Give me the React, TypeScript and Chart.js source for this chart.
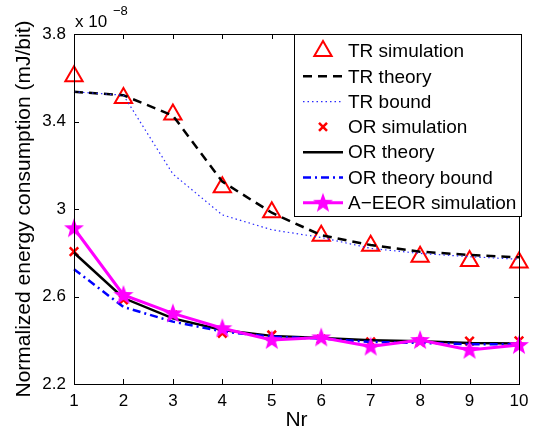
import React, { useEffect, useRef } from "react";
import { Chart, registerables } from "chart.js";
Chart.register(...registerables);

const nr = [1, 2, 3, 4, 5, 6, 7, 8, 9, 10];
const trSim = [3.607, 3.508, 3.432, 3.1, 2.985, 2.878, 2.832, 2.782, 2.762, 2.755];
const trTheory = [3.536, 3.52, 3.427, 3.125, 2.983, 2.88, 2.835, 2.805, 2.79, 2.779];
const trBound = [3.536, 3.52, 3.16, 2.973, 2.905, 2.87, 2.82, 2.797, 2.782, 2.77];
const orSim = [2.805, 2.585, 2.515, 2.432, 2.424, 2.405, 2.393, 2.392, 2.396, 2.397];
const orTheory = [2.8, 2.593, 2.5, 2.447, 2.42, 2.41, 2.4, 2.395, 2.387, 2.385];
const orBound = [2.725, 2.552, 2.485, 2.44, 2.416, 2.408, 2.392, 2.388, 2.382, 2.382];
const aeeor = [2.912, 2.607, 2.523, 2.455, 2.401, 2.413, 2.371, 2.401, 2.356, 2.378];

const xTicks = [1, 2, 3, 4, 5, 6, 7, 8, 9, 10];
const yTicks = [2.2, 2.6, 3, 3.4, 3.8];
const legendLabels = [
  "TR simulation",
  "TR theory",
  "TR bound",
  "OR simulation",
  "OR theory",
  "OR theory bound",
  "A\u2212EEOR simulation",
];
const xTitle = "Nr";
const yTitle = "Normalized energy consumption (mJ/bit)";

const FONT = "'Liberation Sans', Arial, Helvetica, sans-serif";

function makeStar(color: string): HTMLCanvasElement {
  const c = document.createElement("canvas");
  c.width = 24;
  c.height = 24;
  const ctx = c.getContext("2d")!;
  const cx = 12, cy = 12.5, R = 10.5, r = 4.3;
  ctx.beginPath();
  for (let i = 0; i < 10; i++) {
    const rad = (i % 2 === 0 ? R : r);
    const a = -Math.PI / 2 + (i * Math.PI) / 5;
    const px = cx + rad * Math.cos(a);
    const py = cy + rad * Math.sin(a);
    if (i === 0) ctx.moveTo(px, py);
    else ctx.lineTo(px, py);
  }
  ctx.closePath();
  ctx.fillStyle = color;
  ctx.fill();
  return c;
}

export default function App() {
  const ref = useRef<HTMLCanvasElement>(null);
  useEffect(() => {
    const star = makeStar("#ff00ff");
    const styles = [
      { type: "tri" },
      { color: "#000000", width: 2.5, dash: [9, 6] },
      { color: "#2a2aff", width: 1.2, dash: [1.5, 3] },
      { type: "x" },
      { color: "#000000", width: 2.5, dash: [] },
      { color: "#0000ff", width: 2.5, dash: [8, 4, 2, 4] },
      { color: "#ff00ff", width: 3, dash: [], star: true },
    ];

    const framePlugin = {
      id: "frame",
      afterDatasetsDraw(chart: any) {
        const { ctx, chartArea } = chart;
        const { left, right, top, bottom } = chartArea;
        const xs = chart.scales.x;
        const ys = chart.scales.y;
        ctx.save();
        ctx.strokeStyle = "#000";
        ctx.lineWidth = 1;
        ctx.strokeRect(Math.round(left) + 0.5, Math.round(top) + 0.5, Math.round(right - left), Math.round(bottom - top));
        const tl = 5;
        ctx.beginPath();
        xTicks.forEach((v) => {
          const px = Math.round(xs.getPixelForValue(v)) + 0.5;
          ctx.moveTo(px, bottom);
          ctx.lineTo(px, bottom - tl);
          ctx.moveTo(px, top);
          ctx.lineTo(px, top + tl);
        });
        yTicks.forEach((v) => {
          const py = Math.round(ys.getPixelForValue(v)) + 0.5;
          ctx.moveTo(left, py);
          ctx.lineTo(left + tl, py);
          ctx.moveTo(right, py);
          ctx.lineTo(right - tl, py);
        });
        ctx.stroke();
        // exponent label
        ctx.fillStyle = "#000";
        ctx.textBaseline = "alphabetic";
        ctx.textAlign = "left";
        ctx.font = `17px ${FONT}`;
        ctx.fillText("x 10", left + 1, top - 7);
        ctx.font = `13px ${FONT}`;
        ctx.fillText("\u22128", left + 39, top - 19);
        ctx.restore();
      },
      afterDraw(chart: any) {
        const { ctx } = chart;
        ctx.save();
        const bx = 294, by = 34, bw = 227, bh = 182;
        ctx.fillStyle = "#fff";
        ctx.fillRect(bx, by, bw, bh);
        ctx.strokeStyle = "#000";
        ctx.lineWidth = 1;
        ctx.strokeRect(bx + 0.5, by + 0.5, bw, bh);
        const x0 = 303, x1 = 343, mx = 323;
        legendLabels.forEach((label, i) => {
          const y = 51 + i * 25.3;
          const s: any = styles[i];
          if (s.color) {
            ctx.beginPath();
            ctx.strokeStyle = s.color;
            ctx.lineWidth = s.width;
            ctx.setLineDash(s.dash);
            ctx.moveTo(x0, y);
            ctx.lineTo(x1, y);
            ctx.stroke();
            ctx.setLineDash([]);
          }
          if (s.type === "tri") {
            const r = 10;
            ctx.beginPath();
            ctx.strokeStyle = "#ff0000";
            ctx.lineWidth = 2;
            ctx.moveTo(mx, y - r);
            ctx.lineTo(mx + r * Math.sin((2 * Math.PI) / 3), y + r / 2);
            ctx.lineTo(mx - r * Math.sin((2 * Math.PI) / 3), y + r / 2);
            ctx.closePath();
            ctx.stroke();
          }
          if (s.type === "x") {
            const r = 4;
            ctx.beginPath();
            ctx.strokeStyle = "#ff0000";
            ctx.lineWidth = 2.5;
            ctx.moveTo(mx - r, y - r);
            ctx.lineTo(mx + r, y + r);
            ctx.moveTo(mx + r, y - r);
            ctx.lineTo(mx - r, y + r);
            ctx.stroke();
          }
          if (s.star) {
            ctx.drawImage(star, mx - star.width / 2, y - star.height / 2);
          }
          ctx.fillStyle = "#000";
          ctx.font = `19px ${FONT}`;
          ctx.textAlign = "left";
          ctx.textBaseline = "middle";
          ctx.fillText(label, 348, y + 1);
        });
        ctx.restore();
      },
    };

    const pts = (arr: number[]) => nr.map((x, i) => ({ x, y: arr[i] }));

    const chart = new Chart(ref.current!, {
      type: "line",
      data: {
        datasets: [
          {
            label: legendLabels[0],
            data: pts(trSim),
            showLine: false,
            pointStyle: "triangle",
            pointRadius: 10,
            pointBorderWidth: 2,
            pointBorderColor: "#ff0000",
            pointBackgroundColor: "rgba(0,0,0,0)",
            borderColor: "#ff0000",
            order: 6,
            clip: false,
          },
          {
            label: legendLabels[1],
            data: pts(trTheory),
            borderColor: "#000000",
            borderWidth: 2.5,
            borderDash: [9, 6],
            pointRadius: 0,
            order: 5,
            clip: false,
          },
          {
            label: legendLabels[2],
            data: pts(trBound),
            borderColor: "#2a2aff",
            borderWidth: 1.2,
            borderDash: [1.5, 3],
            pointRadius: 0,
            order: 4,
            clip: false,
          },
          {
            label: legendLabels[3],
            data: pts(orSim),
            showLine: false,
            pointStyle: "crossRot",
            pointRadius: 6,
            pointBorderWidth: 2.5,
            pointBorderColor: "#ff0000",
            borderColor: "#ff0000",
            order: 3,
            clip: false,
          },
          {
            label: legendLabels[4],
            data: pts(orTheory),
            borderColor: "#000000",
            borderWidth: 2.5,
            pointRadius: 0,
            order: 2,
            clip: false,
          },
          {
            label: legendLabels[5],
            data: pts(orBound),
            borderColor: "#0000ff",
            borderWidth: 2.5,
            borderDash: [8, 4, 2, 4],
            pointRadius: 0,
            order: 1,
            clip: false,
          },
          {
            label: legendLabels[6],
            data: pts(aeeor),
            borderColor: "#ff00ff",
            borderWidth: 3,
            pointStyle: star as any,
            pointRadius: 10,
            order: 0,
            clip: false,
          },
        ] as any,
      },
      options: {
        responsive: false,
        animation: false,
        devicePixelRatio: 1,
        layout: { padding: { left: 0, right: 17, top: 34, bottom: 0 } },
        plugins: { legend: { display: false }, tooltip: { enabled: false } },
        elements: { line: { tension: 0 } },
        scales: {
          x: {
            type: "linear",
            min: 1,
            max: 10,
            grid: { display: false, drawTicks: false },
            border: { display: false },
            afterFit: (s: any) => { s.height = 49; },
            afterBuildTicks: (s: any) => { s.ticks = xTicks.map((v) => ({ value: v })); },
            ticks: {
              color: "#000",
              padding: 7,
              maxRotation: 0,
              autoSkip: false,
              font: { family: FONT, size: 17 },
              callback: (v: any) => String(v),
            },
            title: {
              display: true,
              text: xTitle,
              color: "#000",
              font: { family: FONT, size: 21 },
              padding: { top: 0, bottom: 0 },
            },
          },
          y: {
            type: "linear",
            min: 2.2,
            max: 3.8,
            grid: { display: false, drawTicks: false },
            border: { display: false },
            afterFit: (s: any) => { s.width = 74; },
            afterBuildTicks: (s: any) => { s.ticks = yTicks.map((v) => ({ value: v })); },
            ticks: {
              color: "#000",
              padding: 8,
              autoSkip: false,
              font: { family: FONT, size: 17 },
              callback: (v: any) => String(Math.round(v * 10) / 10),
            },
            title: {
              display: true,
              text: yTitle,
              color: "#000",
              font: { family: FONT, size: 21 },
              padding: { top: 12, bottom: 0 },
            },
          },
        },
      },
      plugins: [framePlugin],
    } as any);
    return () => chart.destroy();
  }, []);
  return (
    <canvas
      ref={ref}
      width={536}
      height={433}
      style={{ position: "absolute", left: 0, top: 0, width: 536, height: 433 }}
    />
  );
}
